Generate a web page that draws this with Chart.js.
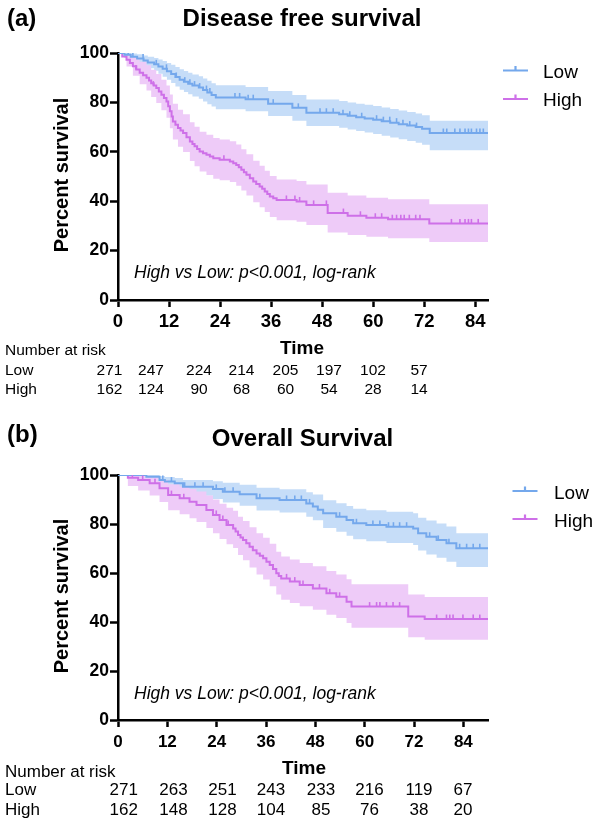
<!DOCTYPE html>
<html><head><meta charset="utf-8">
<script src="https://cdn.jsdelivr.net/npm/chart.js@4/dist/chart.umd.min.js"></script>
<style>
html,body{margin:0;padding:0;background:#fff;}
#wrap{position:relative;width:596px;height:821px;background:#fff;}
#wrap canvas{position:absolute;left:0;top:0;}
</style></head><body>
<div id="wrap"><canvas id="cA" width="596" height="821"></canvas><canvas id="cB" width="596" height="821"></canvas></div>
<script>
// ---------- shared axis data ----------
const xTicks = [0, 12, 24, 36, 48, 60, 72, 84];
const yTicks = [0, 20, 40, 60, 80, 100];
const groups = ['Low', 'High'];

// ---------- (a) Disease free survival ----------
const dfsLowTime  = [0,1.5,3,4.5,6,7,8.5,9.5,10.5,11.5,12.5,13.5,14.5,15.5,16.5,17.5,19,20,21,22,23,30,35.3,41,44.3,52,54,56,58,60,62,64,66,68,70,71.5,73.3,87];
const dfsLowSurv  = [100,99.3,98.5,97.8,97,96.2,95.4,94.5,93.6,92.6,91.5,90.3,89.2,88.4,87.6,86.8,86,85,84,83,82,81.3,79.5,77.8,75.8,75.2,74.6,74,73.5,73,72.4,71.8,71.2,70.6,70,69.3,67.6,67.6];
const dfsLowBandTime = dfsLowTime;
const dfsLowUpper = [100,100,99.8,99.5,99,98.5,98,97.4,96.8,96,95.2,94.3,93.4,92.7,92,91.3,90.6,89.7,88.8,87.8,86.9,86.2,84.6,83,81.2,80.6,80,79.5,79,78.5,77.9,77.3,76.7,76.1,75.5,74.8,72.6,72.6];
const dfsLowLower = [100,98,96.8,95.8,94.8,93.8,92.8,91.6,90.4,89.2,87.9,86.4,85.1,84.2,83.3,82.4,81.5,80.4,79.3,78.3,77.2,76.4,74.5,72.6,70.4,69.7,69,68.4,67.8,67.2,66.5,65.8,65.1,64.4,63.7,62.9,60.6,60.6];
const dfsLowCensTime = [2.4,3.5,5.9,9,11.4,13.7,15.7,16.9,18,19.2,20.8,21.6,27.5,28.6,30.6,31.8,36.5,42.4,47.5,49,50.6,52.9,54.5,57.3,60.8,62.4,63.9,65.5,67,68.6,70.2,76.5,77.3,79.2,80.4,81.6,82.4,83.1,84.3,85.1,85.9];
const dfsLowCensSurv = [99.3,98.5,97.8,95.4,93.6,90.3,88.4,87.6,86.8,86,85,84,82,82,81.3,81.3,79.5,77.8,75.8,75.8,75.8,75.2,74.6,74,73,72.4,72.4,71.8,71.2,70.6,70,67.6,67.6,67.6,67.6,67.6,67.6,67.6,67.6,67.6,67.6];

const dfsHighTime  = [0,1,2,2.8,3.5,4.3,5.1,5.9,6.7,7.3,7.8,8.4,9,9.6,10.2,10.8,11.4,11.8,12.2,12.6,12.9,13.5,14.1,14.7,15.3,16.1,16.9,17.5,18,18.6,19.2,20,20.8,21.6,22.4,23.9,26.3,27.1,27.8,28.4,29,29.6,30.2,31,31.8,32.5,33.3,33.9,34.5,35.1,35.7,36.5,37.3,42,44.3,49.3,54,58.4,63.5,73.2,87];
const dfsHighSurv  = [100,98.6,97.3,96,94.6,93.3,92,91,90,88.9,87.8,86.8,85.8,84.4,83.1,81.8,80.4,78.4,76.4,74.3,72.3,71,69.6,68.6,67.6,65.9,64.2,63.2,62.2,61.1,60.1,59.4,58.8,58.1,57.4,56.8,56.1,55.4,54.7,53.7,52.7,51.7,50.7,49.3,48,47,46,45,43.9,42.9,41.9,41.2,40.5,39.9,38.5,35.2,34.1,33.3,32.7,31,31];
const dfsHighBandTime = [0,2,3.5,5.1,6.7,7.8,9,10.2,11.4,12.2,12.9,14.1,15.3,16.9,18,19.2,20.8,22.4,23.9,26.3,27.8,29,30.2,31.8,33.3,34.5,35.7,37.3,42,44.3,49.3,54,58.4,63.5,73.2,87];
const dfsHighUpper = [100,99.5,98.2,96.5,95,93.2,91.5,89.2,86.8,83.2,79.5,77,75.2,72,70.1,68.1,66.9,65.6,65,64.3,63,61,59,56.4,54.4,52.3,50.2,48.8,48.2,46.8,43.4,42.3,41.4,40.8,38.8,38.8];
const dfsHighLower = [100,94.5,90.8,87.3,84.8,82.2,79.8,76.8,73.8,69.5,65,62,59.9,56.3,54.2,52,50.6,49.1,48.5,47.8,46.3,44.3,42.3,39.6,37.6,35.6,33.6,32.3,31.7,30.4,27.3,26.3,25.6,25,23.5,23.5];
const dfsHighCensTime = [4.2,8.3,24.9,39.6,41.6,42.7,46,49,53,57,60.5,62,64.5,65.5,66.5,67.3,68.5,70,71,78.4,80.4,81.6,82.4,83.1,84.7];
const dfsHighCensSurv = [93.3,86.8,56.8,40.5,40.5,39.9,38.5,38.5,35.2,34.1,33.3,33.3,32.7,32.7,32.7,32.7,32.7,32.7,32.7,31,31,31,31,31,31];

const dfsRiskLow  = [271, 247, 224, 214, 205, 197, 102, 57];
const dfsRiskHigh = [162, 124, 90, 68, 60, 54, 28, 14];

// ---------- (b) Overall survival ----------
const osLowTime  = [0,6.9,10.1,11.4,13.8,15.8,23.1,25.5,29.6,33.7,39.3,45.8,47.4,48.6,49.9,53.1,55.6,57.2,60.4,65.3,71.8,73,75,77.5,79.9,82.3,90];
const osLowSurv  = [100,99.3,98,97.3,96.6,95.2,94.3,93.2,92.1,90.5,89.8,88.4,87.1,85.8,84.4,83,81.6,80.3,79.6,78.9,78.2,76.2,74.8,73.5,72.1,70.1,70.1];
const osLowBandTime = [0,6.9,10.1,11.4,13.8,15.8,23.1,25.5,29.6,33.7,39.3,45.8,47.4,49.9,53.1,55.6,57.2,60.4,65.3,71.8,73,75,77.5,79.9,82.3,90];
const osLowUpper = [100,100,99.6,99.2,98.8,98,97.5,96.8,96,94.8,94.2,93,92,89.7,88.5,87.3,86.2,85.6,85,84.4,82.6,81.4,80.2,79,76.2,76.2];
const osLowLower = [100,97.2,95.2,94.2,93.2,91.5,90.2,88.8,87.5,85.5,84.7,83,81.5,78.4,76.8,75.2,73.8,73,72.2,71.4,69.2,67.6,66.2,64.6,62.4,62.4];
const osLowCensTime = [2.8,4.1,5.7,10.9,13,16.2,18.7,20.7,23.9,26,28,34.5,41,43,44.6,46.6,53.9,58,62,63.7,65.8,67,68.5,70.2,75.8,77.9,80.5,83.1,84.8,86.4,88];
const osLowCensSurv = [100,100,100,98,97.3,95.2,95.2,95.2,94.3,93.2,93.2,90.5,89.8,89.8,89.8,88.4,83,80.3,79.6,79.6,78.9,78.9,78.9,78.9,74.8,73.5,72.1,70.1,70.1,70.1,70.1];

const osHighTime  = [0,2.4,4.9,7.7,10.1,12.2,15,17.4,19.1,21.5,23.1,24.7,26.4,28,28.6,29.2,29.8,30.4,31.2,32,32.8,33.7,34.5,35.3,36.1,36.9,37.7,38.5,39.1,39.7,41.8,44.2,47.4,50.7,53.1,55.6,56.8,70.6,74.6,90];
const osHighSurv  = [100,98.9,98,96.6,94.6,91.8,90.5,89.1,87.8,85.7,83.7,81.6,79.6,78.2,76.9,75.5,74.5,73.5,72.1,70.7,69.3,68,67,66,64.6,63.3,61.6,59.9,58.8,57.8,56.5,55.1,53.7,51.7,50.3,48.3,46.3,42.2,41.2,41.2];
const osHighBandTime = [0,2.4,4.9,7.7,10.1,12.2,15,17.4,19.1,21.5,23.1,24.7,26.4,28,29.2,30.4,32,33.7,35.3,36.9,38.5,39.7,41.8,44.2,47.4,50.7,53.1,55.6,56.8,70.6,74.6,90];
const osHighUpper = [100,100,99.8,99.2,98,96.2,95.3,94.3,93.3,91.6,90,88.3,86.6,85.4,83,81.2,78.7,76.2,74.4,71.9,68.7,66.7,65.5,64.1,62.8,60.8,59.4,57.4,55.4,51.2,50.2,50.2];
const osHighLower = [100,95.5,93.7,91.6,89,85.6,84,82.3,80.8,78.4,76.2,73.9,71.7,70.2,67.3,65.2,62.2,59.4,57.3,54.6,51.2,49.1,47.8,46.4,45,43,41.6,39.6,37.7,33.8,32.8,32.8];
const osHighCensTime = [1.2,3.5,6,9,13,16,23.9,25.5,26.8,41,43,45,49,51.5,53.9,61.2,62.9,63.7,65.3,66.9,68.5,77.5,79.9,80.7,81.5,83.9,86.4,88];
const osHighCensSurv = [100,98.9,98,96.6,91.8,90.5,83.7,81.6,79.6,57.8,56.5,55.1,53.7,51.7,50.3,46.3,46.3,46.3,46.3,46.3,46.3,41.2,41.2,41.2,41.2,41.2,41.2,41.2];

const osRiskLow  = [271, 263, 251, 243, 233, 216, 119, 67];
const osRiskHigh = [162, 148, 128, 104, 85, 76, 38, 20];

// ---------- styling ----------
const FONT = '"Liberation Sans", Arial, Helvetica, sans-serif';
const COLORS = {
  Low:  { line: 'rgb(116,168,236)', band: 'rgb(198,221,248)' },
  High: { line: 'rgb(206,112,232)', band: 'rgb(238,203,248)' }
};

function pts(ts, vs) { return ts.map((t, i) => ({ x: t, y: vs[i] })); }

const panelA = {
  canvas: 'cA', label: '(a)', title: 'Disease free survival',
  left: 118, right: 488, top: 53, bottom: 300, xMax: 87,
  xFont: 18.5, xPad: 4, yFont: 17.5,
  labelY: 26, titleX: 302, titleY: 26,
  yTitleY: 175, timeX: 302, timeY: 354, pY: 278,
  legX: 503, legTextX: 543, legLineY: [70.5, 99], legTextY: [77.5, 106],
  riskFont: 15.5, riskHeadY: 355, riskRowY: [375, 394],
  riskCols: [109.5, 151, 199, 241.5, 285.5, 329, 373, 419],
  series: [
    { name: 'Low',  t: dfsLowTime,  s: dfsLowSurv,  bt: dfsLowBandTime,  u: dfsLowUpper,  l: dfsLowLower,  ct: dfsLowCensTime,  cs: dfsLowCensSurv,  risk: dfsRiskLow },
    { name: 'High', t: dfsHighTime, s: dfsHighSurv, bt: dfsHighBandTime, u: dfsHighUpper, l: dfsHighLower, ct: dfsHighCensTime, cs: dfsHighCensSurv, risk: dfsRiskHigh }
  ]
};
const panelB = {
  canvas: 'cB', label: '(b)', title: 'Overall Survival',
  left: 118, right: 488, top: 475, bottom: 720, xMax: 90,
  xFont: 17, xPad: 5, yFont: 17.5,
  labelY: 442, titleX: 302.5, titleY: 446,
  yTitleY: 596, timeX: 304, timeY: 774, pY: 698.5,
  legX: 512.5, legTextX: 554, legLineY: [491, 519], legTextY: [498.5, 526.5],
  riskFont: 17, riskHeadY: 777, riskRowY: [795, 815],
  riskCols: [123.7, 173.5, 222.5, 271, 321, 369.5, 419, 463],
  series: [
    { name: 'Low',  t: osLowTime,  s: osLowSurv,  bt: osLowBandTime,  u: osLowUpper,  l: osLowLower,  ct: osLowCensTime,  cs: osLowCensSurv,  risk: osRiskLow },
    { name: 'High', t: osHighTime, s: osHighSurv, bt: osHighBandTime, u: osHighUpper, l: osHighLower, ct: osHighCensTime, cs: osHighCensSurv, risk: osRiskHigh }
  ]
};

function textPlugin(P) {
  return {
    id: 'panelText' + P.canvas,
    afterDraw(chart) {
      const ctx = chart.ctx;
      ctx.save();
      ctx.fillStyle = '#000';
      ctx.textBaseline = 'alphabetic';
      ctx.font = 'bold 24px ' + FONT;
      ctx.textAlign = 'left';
      ctx.fillText(P.label, 7, P.labelY);
      ctx.textAlign = 'center';
      ctx.fillText(P.title, P.titleX, P.titleY);
      ctx.save();
      ctx.translate(68, P.yTitleY);
      ctx.rotate(-Math.PI / 2);
      ctx.font = 'bold 20px ' + FONT;
      ctx.textAlign = 'center';
      ctx.fillText('Percent survival', 0, 0);
      ctx.restore();
      ctx.font = 'bold 19px ' + FONT;
      ctx.textAlign = 'center';
      ctx.fillText('Time', P.timeX, P.timeY);
      ctx.font = 'italic 17.5px ' + FONT;
      ctx.textAlign = 'left';
      ctx.fillText('High vs Low: p<0.001, log-rank', 134, P.pY);
      P.series.forEach((s, i) => {
        const y = P.legLineY[i];
        ctx.strokeStyle = COLORS[s.name].line;
        ctx.lineWidth = 2.2;
        ctx.beginPath();
        ctx.moveTo(P.legX, y); ctx.lineTo(P.legX + 25, y);
        ctx.moveTo(P.legX + 12.5, y); ctx.lineTo(P.legX + 12.5, y - 4.5);
        ctx.stroke();
        ctx.fillStyle = '#000';
        ctx.font = '19px ' + FONT;
        ctx.textAlign = 'left';
        ctx.fillText(s.name, P.legTextX, P.legTextY[i]);
      });
      ctx.font = P.riskFont + 'px ' + FONT;
      ctx.textAlign = 'left';
      ctx.fillText('Number at risk', 5, P.riskHeadY);
      P.series.forEach((s, i) => {
        ctx.textAlign = 'left';
        ctx.fillText(s.name, 5, P.riskRowY[i]);
        ctx.textAlign = 'center';
        s.risk.forEach((n, j) => ctx.fillText(String(n), P.riskCols[j], P.riskRowY[i]));
      });
      ctx.restore();
    }
  };
}

function buildChart(P) {
  const datasets = [];
  P.series.forEach(s => {
    const c = COLORS[s.name];
    const ord = s.name === 'Low' ? 11 : 10;
    datasets.push({ label: s.name + ' upper', data: pts(s.bt, s.u), stepped: true, borderWidth: 0, borderColor: 'rgba(0,0,0,0)',
                    pointRadius: 0, fill: '+1', backgroundColor: c.band, order: ord });
    datasets.push({ label: s.name + ' lower', data: pts(s.bt, s.l), stepped: true, borderWidth: 0, borderColor: 'rgba(0,0,0,0)',
                    pointRadius: 0, fill: false, order: ord });
  });
  P.series.forEach(s => {
    const c = COLORS[s.name];
    datasets.push({ label: s.name, data: pts(s.t, s.s), stepped: true, borderWidth: 2, borderColor: c.line,
                    pointRadius: 0, fill: false, order: 2 });
    datasets.push({ label: s.name + ' censored', data: pts(s.ct, s.cs), showLine: false, pointStyle: 'dash',
                    pointRotation: -90, pointRadius: 4.5, pointBorderWidth: 1.6, pointBorderColor: c.line,
                    pointBackgroundColor: c.line, order: 1 });
  });

  const axisBorder = { display: true, color: '#000', width: 2.5 };
  new Chart(document.getElementById(P.canvas), {
    type: 'line',
    data: { datasets },
    options: {
      responsive: false, animation: false, devicePixelRatio: 1,
      layout: { padding: { top: P.top, left: 0, right: 596 - P.right, bottom: 0 } },
      plugins: { legend: { display: false }, tooltip: { enabled: false }, title: { display: false } },
      scales: {
        x: {
          type: 'linear', min: 0, max: P.xMax,
          afterBuildTicks: sc => { sc.ticks = xTicks.map(v => ({ value: v })); },
          afterFit: sc => { sc.height = 821 - P.bottom; },
          border: axisBorder,
          grid: { display: true, drawOnChartArea: false, drawTicks: true, tickLength: 7, tickColor: '#000', tickWidth: 2.5, color: '#000' },
          ticks: { color: '#000', font: { family: FONT, weight: 'bold', size: P.xFont }, padding: P.xPad, maxRotation: 0, autoSkip: false }
        },
        y: {
          type: 'linear', min: 0, max: 100,
          afterBuildTicks: sc => { sc.ticks = yTicks.map(v => ({ value: v })); },
          afterFit: sc => { sc.width = P.left; },
          border: axisBorder,
          grid: { display: true, drawOnChartArea: false, drawTicks: true, tickLength: 8, tickColor: '#000', tickWidth: 2.5, color: '#000' },
          ticks: { color: '#000', font: { family: FONT, weight: 'bold', size: P.yFont }, padding: 1, autoSkip: false }
        }
      }
    },
    plugins: [textPlugin(P)]
  });
}

buildChart(panelA);
buildChart(panelB);
</script>
</body></html>
